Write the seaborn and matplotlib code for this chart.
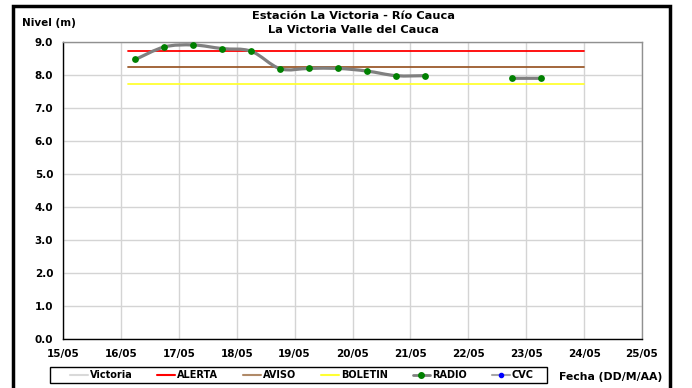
import matplotlib
matplotlib.use("Agg")
import matplotlib.pyplot as plt
import matplotlib.dates as mdates
from matplotlib.path import Path
from matplotlib.patches import PathPatch, Rectangle
from matplotlib.lines import Line2D
import seaborn as sns
import pandas as pd
import numpy as np

# ---------------- data ----------------
radio_times = ["2011-05-16 06:00", "2011-05-16 18:00", "2011-05-17 06:00", "2011-05-17 18:00",
               "2011-05-18 06:00", "2011-05-18 18:00", "2011-05-19 06:00", "2011-05-19 18:00",
               "2011-05-20 06:00", "2011-05-20 18:00", "2011-05-21 06:00",
               "2011-05-22 18:00", "2011-05-23 06:00"]
radio_values = [8.47, 8.85, 8.91, 8.80, 8.72, 8.19, 8.20, 8.20, 8.12, 7.98, 7.98, 7.90, 7.90]
# segment id: consecutive readings connected by the line
radio_segment = [0, 0, 0, 0, 0, 0, 0, 0, 0, 0, 0, 1, 1]

threshold_names = ["ALERTA", "AVISO", "BOLETIN"]
threshold_values = [8.73, 8.24, 7.74]
threshold_colors = ["#ff0000", "#9c5a2c", "#ffff33"]
threshold_span = ["2011-05-16 03:00", "2011-05-24 00:00"]

x_ticks = ["2011-05-15", "2011-05-16", "2011-05-17", "2011-05-18", "2011-05-19", "2011-05-20",
           "2011-05-21", "2011-05-22", "2011-05-23", "2011-05-24", "2011-05-25"]
x_tick_labels = ["15/05", "16/05", "17/05", "18/05", "19/05", "20/05",
                 "21/05", "22/05", "23/05", "24/05", "25/05"]
y_ticks = [0.0, 1.0, 2.0, 3.0, 4.0, 5.0, 6.0, 7.0, 8.0, 9.0]

title_lines = ["Estación La Victoria - Río Cauca", "La Victoria Valle del Cauca"]

# ---------------- style ----------------
sns.set_style("white")
plt.rcParams["font.family"] = ["DejaVu Sans"]
plt.rcParams["font.weight"] = "bold"
plt.rcParams["text.color"] = "black"
plt.rcParams["xtick.color"] = "black"
plt.rcParams["ytick.color"] = "black"
plt.rcParams["xtick.labelcolor"] = "black"
plt.rcParams["ytick.labelcolor"] = "black"

W, H = 692, 388
fig = plt.figure(figsize=(W / 100, H / 100), dpi=100)
ax = fig.add_axes([63 / W, 1 - 339 / H, (642 - 63) / W, (339 - 42) / H])

# thresholds
span = pd.to_datetime(threshold_span)
for name, val, col in zip(threshold_names, threshold_values, threshold_colors):
    df_t = pd.DataFrame({"t": span, "v": [val, val]})
    sns.lineplot(data=df_t, x="t", y="v", ax=ax, color=col, linewidth=1.3, zorder=3)

# radio series: smoothed (Excel-like bezier) gray line + green markers
df = pd.DataFrame({"t": pd.to_datetime(radio_times), "v": radio_values, "seg": radio_segment})
df["x"] = mdates.date2num(df["t"])
for seg, g in df.groupby("seg"):
    P = g[["x", "v"]].to_numpy()
    n = len(P)
    if n < 2:
        continue
    verts = [tuple(P[0])]
    codes = [Path.MOVETO]
    for i in range(n - 1):
        p0 = P[i - 1] if i > 0 else P[i]
        p1 = P[i]
        p2 = P[i + 1]
        p3 = P[i + 2] if i + 2 < n else P[i + 1]
        c1 = p1 + (p2 - p0) / 6.0
        c2 = p2 - (p3 - p1) / 6.0
        verts += [tuple(c1), tuple(c2), tuple(p2)]
        codes += [Path.CURVE4] * 3
    ax.add_patch(PathPatch(Path(verts, codes), facecolor="none", edgecolor="#808080",
                           linewidth=2.3, zorder=4, capstyle="round", joinstyle="round"))
sns.scatterplot(data=df, x="t", y="v", ax=ax, color="#008000", s=24, edgecolor="#008000",
                linewidth=0, zorder=5)

# axes
xt = mdates.date2num(pd.to_datetime(x_ticks))
ax.set_xlim(xt[0], xt[-1])
ax.set_ylim(0, 9)
ax.set_xticks(xt)
ax.set_xticklabels(x_tick_labels, fontsize=7.5, fontweight="bold", color="black")
ax.set_yticks(y_ticks)
ax.set_yticklabels([f"{v:.1f}" for v in y_ticks], fontsize=7.5, fontweight="bold", color="black")
ax.set_xlabel("")
ax.set_ylabel("")
ax.grid(True, color="#d4d4d4", linewidth=1.0, zorder=0)
ax.set_axisbelow(True)
ax.tick_params(axis="both", direction="out", length=4, width=1, color="black", pad=3)
ax.spines["left"].set_color("black")
ax.spines["bottom"].set_color("black")
ax.spines["top"].set_color("#909090")
ax.spines["right"].set_color("#909090")
for s in ax.spines.values():
    s.set_linewidth(1.0)
if ax.get_legend():
    ax.get_legend().remove()

# texts
fig.text(353 / W, 1 - 16 / H, title_lines[0], ha="center", va="center", fontsize=8.2,
         fontweight="bold", color="black")
fig.text(353 / W, 1 - 30 / H, title_lines[1], ha="center", va="center", fontsize=8.2,
         fontweight="bold", color="black")
fig.text(22 / W, 1 - 23 / H, "Nivel (m)", ha="left", va="center", fontsize=7.5,
         fontweight="bold", color="black")
fig.text(611 / W, 1 - 377 / H, "Fecha (DD/M/AA)", ha="center", va="center", fontsize=7.8,
         fontweight="bold", color="black")

# legend
handles = [
    Line2D([], [], color="#d9d9d9", linewidth=1.5),
    Line2D([], [], color="#ff0000", linewidth=1.5),
    Line2D([], [], color="#b08a68", linewidth=1.5),
    Line2D([], [], color="#ffff33", linewidth=1.5),
    Line2D([], [], color="#808080", linewidth=2, marker="o", markersize=4,
           markerfacecolor="#008000", markeredgecolor="#008000"),
    Line2D([], [], color="#a6a6a6", linewidth=1.5, marker="o", markersize=3,
           markerfacecolor="#0000ff", markeredgecolor="#0000ff"),
]
labels = ["Victoria"] + threshold_names + ["RADIO", "CVC"]
lx0, lx1, ly0, ly1 = 50, 547, 367, 383
leg = fig.legend(handles, labels, loc="center",
                 bbox_to_anchor=(70 / W, 1 - ly1 / H, (534 - 70) / W, (ly1 - ly0) / H),
                 mode="expand", ncol=6, frameon=False, handlelength=1.8,
                 handletextpad=0.25, columnspacing=1.0, borderpad=0.0, borderaxespad=0.0,
                 prop={"weight": "bold", "size": 7})
fig.patches.append(Rectangle((lx0 / W, 1 - ly1 / H), (lx1 - lx0) / W, (ly1 - ly0) / H,
                             transform=fig.transFigure, fill=False, edgecolor="black",
                             linewidth=1.0))

# outer frame
fig.patches.append(Rectangle((13 / W, -0.05), (670 - 13) / W, 1 + 0.05 - 6 / H,
                             transform=fig.transFigure, fill=False, edgecolor="black",
                             linewidth=2.5))

fig.savefig("out.png", dpi=100)
